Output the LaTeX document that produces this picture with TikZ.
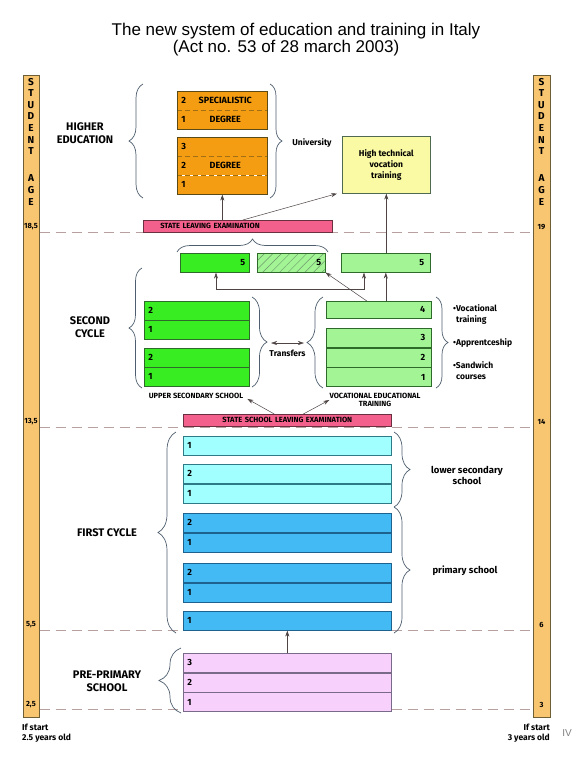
\documentclass[tikz,border=0pt]{standalone}
\usepackage{fontspec}
\setmainfont{Liberation Sans}
\newfontfamily\dinfont{Fira Sans}
\usetikzlibrary{arrows.meta, positioning, fit, calc, decorations.pathreplacing, patterns.meta}

\definecolor{ageorange}{HTML}{F8C571}
\definecolor{agedraw}{HTML}{6E5E36}
\definecolor{unibox}{HTML}{F59D12}
\definecolor{unidraw}{HTML}{5C4A16}
\definecolor{techbox}{HTML}{FAFAA4}
\definecolor{techdraw}{HTML}{4E6A50}
\definecolor{exambox}{HTML}{F4608C}
\definecolor{examdraw}{HTML}{6A3040}
\definecolor{upperbox}{HTML}{38EE22}
\definecolor{upperdraw}{HTML}{2E6A2A}
\definecolor{vocbox}{HTML}{A2F495}
\definecolor{lowerbox}{HTML}{A2FFFF}
\definecolor{lowerdraw}{HTML}{2E7A86}
\definecolor{primbox}{HTML}{44BAF4}
\definecolor{primdraw}{HTML}{1E6290}
\definecolor{prebox}{HTML}{F8D0FC}
\definecolor{predraw}{HTML}{786A88}
\definecolor{bracecol}{HTML}{4E5E6E}
\definecolor{dashcol}{HTML}{B8A0A0}
\definecolor{arrcol}{HTML}{4E4444}

\begin{document}
\begin{tikzpicture}[x=1pt, y=-1pt,
      lbl/.style={font=\dinfont\bfseries\fontsize{11}{13}\selectfont, align=center, inner sep=1pt},
      small/.style={font=\dinfont\bfseries\fontsize{8.5}{11}\selectfont, align=center, inner sep=1pt},
      tiny/.style={font=\dinfont\bfseries\fontsize{7.5}{8.5}\selectfont, inner sep=0pt},
      agetxt/.style={font=\dinfont\bfseries\fontsize{10}{10}\selectfont, inner sep=0pt},
      agebar/.style={draw=agedraw, fill=ageorange, rectangle, anchor=north west,
                     minimum width=16pt, minimum height=642pt, inner sep=0pt, line width=0.6pt},
      cell/.style={draw, rectangle, anchor=north west, inner xsep=4pt, inner ysep=0pt,
                   minimum height=19pt, line width=0.6pt,
                   font=\dinfont\bfseries\fontsize{9}{10}\selectfont},
      unirow/.style={cell, draw=none, fill=unibox, text width=82pt, align=left, minimum height=18.5pt},
      unidiv/.style={draw=unidraw!55!unibox, dash pattern=on 5pt off 3pt, line width=0.6pt},
      usrow/.style={cell, fill=upperbox, draw=upperdraw, text width=97pt, align=left, minimum height=18.5pt},
      vocrow/.style={cell, fill=vocbox, draw=upperdraw, inner xsep=6pt, text width=93pt, align=right},
      lowrow/.style={cell, fill=lowerbox, draw=lowerdraw, text width=200pt, align=left},
      primrow/.style={cell, fill=primbox, draw=primdraw, text width=200pt, align=left},
      prerow/.style={cell, fill=prebox, draw=predraw, text width=200pt, align=left},
      exam/.style={draw=examdraw, fill=exambox, rectangle, anchor=north west, minimum height=12pt,
                   inner ysep=0pt, line width=0.6pt, font=\dinfont\bfseries\fontsize{7.5}{8}\selectfont},
      brace/.style={decorate, decoration={brace, amplitude=#1}, draw=bracecol, line width=0.7pt},
      brace/.default=12pt,
      ageline/.style={draw=dashcol, dash pattern=on 10pt off 6pt, line width=0.6pt},
      arr/.style={-{Stealth[length=6pt, width=4pt]}, draw=arrcol, line width=0.5pt},
      darr/.style={{Stealth[length=6pt, width=4pt]}-{Stealth[length=6pt, width=4pt]}, draw=arrcol, line width=0.5pt}
    ]
    \useasboundingbox[fill=white] (0,0) rectangle (583,764);

    % title
    \node[font=\fontsize{17}{20}\selectfont] (title1) at (296,31) {The new system of education and training in Italy};
    \node[font=\fontsize{17}{20}\selectfont] (title2) at (286,48) {(Act no. 53 of 28 march 2003)};

    % age bars
    \node[agebar] (leftbar)  at (23,75)  {};
    \node[agebar, minimum width=17pt] (rightbar) at (533,75) {};
    \foreach \l [count=\i] in {S,T,U,D,E,N,T} {
      \node[agetxt] (ls\i) at (31,70+11.6*\i) {\l};
      \node[agetxt] (rs\i) at (541.5,70+11.6*\i) {\l};
    }
    \foreach \l [count=\i] in {A,G,E} {
      \node[agetxt] (la\i) at (31,166+12*\i) {\l};
      \node[agetxt] (ra\i) at (541.5,166+12*\i) {\l};
    }
    \node[tiny] (l185) at (31,227)    {18,5};
    \node[tiny] (l135) at (31,422)    {13,5};
    \node[tiny] (l55)  at (31,625)    {5,5};
    \node[tiny] (l25)  at (31,705)    {2,5};
    \node[tiny] (r19)  at (541.5,227) {19};
    \node[tiny] (r14)  at (541.5,422) {14};
    \node[tiny] (r6)   at (541.5,625) {6};
    \node[tiny] (r3)   at (541.5,705) {3};

    % age lines
    \foreach \y in {232,427,630,709}
      \draw[ageline] (leftbar.east |- 0,\y) -- (rightbar.west |- 0,\y);

    % higher education
    \node[lbl] (higher) at (85,133) {HIGHER\\EDUCATION};
    \node[unirow] (o1a) at (177,91) {2};
    \node[unirow, below=0pt of o1a] (o1b) {1};
    \node[unirow] (o2a) at (177,137) {3};
    \node[unirow, below=0pt of o2a] (o2b) {2};
    \node[unirow, below=0pt of o2b] (o2c) {1};
    \draw[unidiv] (o1a.south west) -- (o1a.south east);
    \draw[unidiv] (o2a.south west) -- (o2a.south east);
    \draw[unidiv] (o2b.south west) -- (o2b.south east);
    \node[fit=(o1a)(o1b), draw=unidraw, line width=0.6pt, inner sep=0pt] (ob1) {};
    \node[fit=(o2a)(o2c), draw=unidraw, line width=0.6pt, inner sep=0pt] (ob2) {};
    \node[cell, draw=none, anchor=center] (spec) at ([xshift=3pt]o1a.center) {SPECIALISTIC};
    \node[cell, draw=none, anchor=center] (deg1) at ([xshift=3pt]o1b.center) {DEGREE};
    \node[cell, draw=none, anchor=center] (deg2) at ([xshift=3pt]o2b.center) {DEGREE};
    \node[small] (univ) at (312,143) {University};
    \node[small, draw=techdraw, fill=techbox, anchor=north west, line width=0.6pt,
          minimum width=88pt, minimum height=57pt] (htv) at (342,136) {High technical\\vocation\\training};

    % state leaving examination
    \node[exam, inner xsep=17pt, text width=155pt, align=left] (sle) at (143,220) {STATE LEAVING EXAMINATION};

    % second cycle
    \node[lbl] (second) at (90,327) {SECOND\\CYCLE};
    \node[cell, fill=upperbox, draw=upperdraw, text width=61pt, align=right] (g5) at (180,253) {5};
    \node[cell, draw=upperdraw, preaction={fill=vocbox},
          pattern={Lines[angle=45, distance=6pt, line width=0.5pt]}, pattern color=upperdraw!70,
          text width=60pt, align=right] (h5) at (257,253) {5};
    \node[vocrow, text width=77pt] (l5) at (341,253) {5};
    \node[usrow] (us1) at (144,301) {2};
    \node[usrow, below=0pt of us1] (us2) {1};
    \node[usrow] (us3) at (144,348) {2};
    \node[usrow, below=0pt of us3] (us4) {1};
    \node[vocrow, minimum height=17pt] (v4) at (326,301) {4};
    \node[vocrow] (v3) at (326,328) {3};
    \node[vocrow, below=0pt of v3] (v2) {2};
    \node[vocrow, below=0pt of v2] (v1) {1};
    \node[tiny] (uslbl) at (196,396) {UPPER SECONDARY SCHOOL};
    \node[tiny, align=center] (vetlbl) at (375,400) {VOCATIONAL EDUCATIONAL\\TRAINING};
    \node[small, anchor=west, align=left] (voctr) at (452,314) {\textbullet Vocational\\\phantom{\textbullet}training};
    \node[small, anchor=west] (appr) at (452,343) {\textbullet Apprentceship};
    \node[small, anchor=west, align=left] (sandw) at (452,371) {\textbullet Sandwich\\\phantom{\textbullet}courses};

    % state school leaving examination
    \node[exam, inner xsep=4pt, text width=200pt, align=center] (ssle) at (183,414) {STATE SCHOOL LEAVING EXAMINATION};

    % first cycle
    \node[lbl] (first) at (107,533) {FIRST CYCLE};
    \node[lowrow] (c1) at (183,436) {1};
    \node[lowrow] (c2) at (183,464) {2};
    \node[lowrow, below=0pt of c2] (c3) {1};
    \node[primrow] (p1) at (183,513) {2};
    \node[primrow, below=0pt of p1] (p2) {1};
    \node[primrow] (p3) at (183,563) {2};
    \node[primrow, below=0pt of p3] (p4) {1};
    \node[primrow] (p5) at (183,611) {1};
    \node[small, font=\dinfont\bfseries\fontsize{9.5}{11}\selectfont] (lowsec) at (467,475) {lower secondary\\school};
    \node[small, font=\dinfont\bfseries\fontsize{9.5}{11}\selectfont] (prim) at (465,571) {primary school};

    % pre-primary
    \node[lbl] (preprim) at (107,681) {PRE-PRIMARY\\SCHOOL};
    \node[prerow] (pp3) at (183,653) {3};
    \node[prerow, below=0pt of pp3] (pp2) {2};
    \node[prerow, below=0pt of pp2] (pp1) {1};

    % footer
    \node[small, align=left, anchor=north west, font=\dinfont\bfseries\fontsize{8.5}{9.5}\selectfont] (lstart) at (21,723) {If start\\2.5 years old};
    \node[small, align=right, anchor=north east, font=\dinfont\bfseries\fontsize{8.5}{9.5}\selectfont] (rstart) at (551,723) {If start\\3 years old};
    \node[font=\fontsize{10}{12}\selectfont, text=gray] (pageno) at (567,733) {IV};

    % braces
    \draw[brace=14pt] (143,198) -- (143,84);
    \draw[brace]      (270,84) -- (270,198);
    \draw[brace=13pt] (177,252) -- (328,252);
    \draw[brace=13pt] (142,388) -- (142,268);
    \draw[brace=15pt] (252,297) -- (252,387);
    \draw[brace=16pt] (323,388) -- (323,297);
    \draw[brace]      (436,297) -- (436,388);
    \draw[brace=18pt] (176,633) -- (176,432);
    \draw[brace=16pt] (394,432) -- (394,507);
    \draw[brace=16pt] (394,507) -- (394,633);
    \draw[brace=22pt] (181,713) -- (181,648);

    % connectors
    \coordinate (tl) at (271,343);
    \coordinate (tr) at (304,343);
    \coordinate (jl) at (216,289);
    \coordinate (jr) at (364,289);
    \draw[arr] (sle.north -| ob2.south) -- (ob2.south);
    \draw[arr] ([xshift=5pt]sle.north) -- ([xshift=-5pt]htv.south west);
    \draw[arr] (l5.north -| htv.south) -- (htv.south);
    \draw[arr] (jl) -- (jl |- g5.south);
    \draw[arr] (jl) -- (jr) -- (jr |- l5.south);
    \draw[arr] (v4.north -| l5.south) -- (l5.south);
    \draw[arr] ([xshift=-12pt]v4.north) -- (h5.south east);
    \draw[darr] (tl) -- node[small, below=6pt] (transf) {Transfers} (tr);
    \draw[arr] ([xshift=-13pt]ssle.north) -- ([xshift=4pt]uslbl.south east);
    \draw[arr] ([xshift=16pt]ssle.north) -- (vetlbl.west);
    \draw[arr] (pp3.north) -- (p5.south);
  \end{tikzpicture}
\end{document}
